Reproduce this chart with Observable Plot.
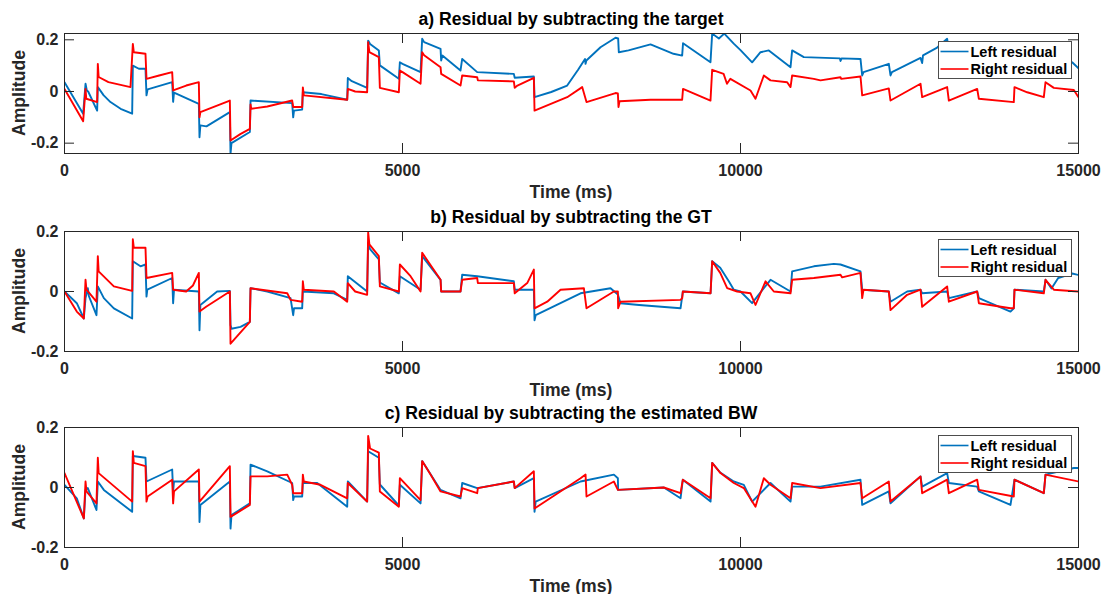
<!DOCTYPE html>
<html>
<head>
<meta charset="utf-8">
<script src="https://cdn.jsdelivr.net/npm/d3@7"></script>
<script src="https://cdn.jsdelivr.net/npm/@observablehq/plot@0.6"></script>
<style>
  body { margin: 0; background: #fff; }
  #chart { position: relative; width: 1101px; height: 594px; overflow: hidden; background: #fff; }
  #chart .panel { position: absolute; left: 0; }
</style>
</head>
<body>
<div id="chart"></div>
<script>
// Time axis and amplitude ticks
const timeTicks = [0, 5000, 10000, 15000];
const ampTicks = [-0.2, 0, 0.2];
const seriesNames = ["Left residual", "Right residual"];
const panelTitles = [
  "a) Residual by subtracting the target",
  "b) Residual by subtracting the GT",
  "c) Residual by subtracting the estimated BW"
];
const panelYDomains = [[-0.24, 0.2244], [-0.2, 0.2], [-0.2, 0.2]];

// [time (ms), amplitude] samples of each residual trace
const aLeft = [[0,0.036],[276,-0.086],[311,0.030],[330,0.004],[350,0.0],[483,-0.074],[493,0.017],[580,-0.015],[680,-0.041],[830,-0.067],[1001,-0.086],[1011,0.100],[1100,0.088],[1198,0.088],[1213,-0.015],[1230,0.008],[1593,0.036],[1607,-0.040],[1620,-0.004],[1987,-0.048],[1997,-0.177],[2010,-0.131],[2100,-0.135],[2446,-0.080],[2456,-0.241],[2470,-0.200],[2742,-0.157],[2752,-0.035],[3368,-0.045],[3383,-0.100],[3395,-0.074],[3516,-0.070],[3526,-0.003],[3800,-0.010],[4182,-0.032],[4191,0.052],[4250,0.040],[4477,0.014],[4492,0.197],[4520,0.184],[4650,0.159],[4665,0.101],[4946,0.049],[4961,0.113],[5000,0.107],[5267,0.075],[5291,0.204],[5320,0.191],[5563,0.165],[5572,0.120],[5590,0.139],[5858,0.081],[5883,0.126],[6105,0.075],[6647,0.068],[6660,0.053],[6943,0.058],[6953,-0.022],[7200,-0.002],[7436,0.023],[7600,0.085],[7700,0.126],[7708,0.107],[7720,0.120],[7929,0.171],[8151,0.208],[8190,0.205],[8200,0.152],[8343,0.159],[8669,0.182],[9009,0.146],[9137,0.139],[9150,0.187],[9556,0.113],[9581,0.224],[9680,0.205],[9760,0.224],[9900,0.185],[10000,0.160],[10172,0.113],[10296,0.152],[10419,0.159],[10740,0.094],[10764,0.159],[10937,0.133],[11470,0.128],[11480,0.118],[11495,0.128],[11775,0.126],[11800,0.062],[11820,0.075],[12194,0.107],[12219,0.062],[12240,0.075],[12663,0.130],[12687,0.110],[12700,0.140],[12909,0.170],[13057,0.204],[13082,0.160],[13501,0.190],[13526,0.150],[14043,0.130],[14053,0.170],[14487,0.160],[14512,0.190],[14800,0.125],[14906,0.113],[15000,0.090]];
const aRight = [[0,0.010],[276,-0.115],[311,0.010],[322,-0.028],[483,-0.041],[493,0.107],[505,0.056],[650,0.036],[976,0.017],[1011,0.184],[1025,0.152],[1198,0.146],[1213,0.049],[1400,0.062],[1593,0.075],[1607,0.004],[1800,0.023],[1987,0.036],[1997,-0.100],[2010,-0.080],[2446,-0.035],[2456,-0.190],[2600,-0.165],[2742,-0.145],[2752,-0.050],[2762,-0.067],[3000,-0.058],[3368,-0.035],[3383,-0.060],[3516,-0.060],[3526,0.016],[3540,-0.015],[4182,-0.032],[4191,0.010],[4300,0.000],[4477,-0.003],[4492,0.191],[4510,0.152],[4650,0.133],[4665,0.014],[4946,-0.003],[4961,0.081],[5000,0.075],[5267,0.030],[5291,0.152],[5320,0.140],[5563,0.094],[5572,0.068],[5858,0.023],[5883,0.062],[6105,0.055],[6115,0.043],[6647,0.039],[6660,0.014],[6700,0.023],[6943,0.053],[6953,-0.074],[7436,-0.022],[7658,0.017],[7722,-0.041],[8151,-0.006],[8186,-0.008],[8195,-0.060],[8210,-0.038],[8669,-0.032],[9137,-0.032],[9150,0.010],[9556,-0.035],[9581,0.084],[9750,0.068],[9800,0.030],[9850,0.049],[10148,0.004],[10222,-0.028],[10345,0.062],[10444,0.043],[10690,0.036],[10740,0.017],[10764,0.062],[11085,0.049],[11183,0.043],[11479,0.055],[11490,0.049],[11775,0.058],[11800,-0.015],[12194,0.012],[12219,-0.035],[12663,0.030],[12687,-0.022],[13057,0.017],[13082,-0.035],[13501,0.010],[13526,-0.028],[14043,-0.041],[14053,0.017],[14241,-0.003],[14487,-0.022],[14512,0.036],[14635,0.014],[14931,0.006],[15000,-0.022]];
const bLeft = [[0,0],[182,-0.039],[286,-0.09],[311,-0.022],[345,0.011],[360,-0.015],[473,-0.079],[493,0.017],[582,-0.022],[730,-0.056],[1001,-0.09],[1011,0.101],[1124,0.084],[1198,0.09],[1213,-0.017],[1225,0.006],[1593,0.045],[1607,-0.039],[1620,0.006],[1987,0],[1997,-0.129],[2010,-0.045],[2258,0],[2446,0.002],[2456,-0.112],[2470,-0.124],[2604,-0.118],[2742,-0.101],[2752,0.011],[3000,0],[3344,-0.022],[3383,-0.079],[3395,-0.056],[3516,-0.056],[3526,0],[3985,-0.006],[4182,-0.028],[4191,0.051],[4477,0],[4492,0.163],[4520,0.141],[4650,0.107],[4665,0.03],[4946,-0.006],[4961,0.051],[5267,0.006],[5291,0.118],[5563,0.039],[5572,0],[5858,0],[5883,0.056],[6105,0.051],[6647,0.034],[6660,0.006],[6943,0.006],[6953,-0.096],[6970,-0.079],[7634,-0.006],[8077,0.011],[8186,-0.01],[8225,-0.039],[8500,-0.045],[9113,-0.056],[9147,0],[9557,-0.006],[9581,0.101],[9700,0.079],[9827,0.034],[9901,0.006],[10000,0],[10172,-0.039],[10345,0.011],[10444,0.039],[10740,0],[10764,0.067],[11085,0.084],[11381,0.092],[11479,0.09],[11775,0.067],[11800,0.006],[12194,0],[12219,-0.034],[12465,0],[12663,0.006],[12687,-0.006],[13057,0],[13082,-0.022],[13501,0],[13526,-0.022],[13994,-0.067],[14043,-0.056],[14053,0.006],[14487,0],[14512,0.039],[14600,0.01],[14700,0.045],[14906,0.06],[15000,0.055]];
const bRight = [[0,0],[182,-0.067],[286,-0.09],[311,0.039],[325,0.006],[473,-0.034],[493,0.118],[505,0.067],[730,0.017],[1001,0.002],[1011,0.174],[1025,0.146],[1198,0.146],[1213,0.045],[1593,0.062],[1607,0.006],[1800,0],[1900,0.02],[1987,0.062],[1997,-0.067],[2100,-0.05],[2446,0],[2456,-0.174],[2742,-0.101],[2752,0.011],[3295,-0.006],[3344,-0.028],[3516,-0.034],[3526,0.034],[3540,0.006],[3985,0],[4182,-0.034],[4191,0.028],[4300,0],[4477,-0.011],[4492,0.197],[4510,0.157],[4650,0.118],[4665,0.017],[4946,0],[4961,0.090],[5119,0.051],[5267,0],[5291,0.129],[5563,0.039],[5572,0],[5858,0],[5883,0.039],[6105,0.045],[6115,0.028],[6647,0.028],[6660,-0.006],[6845,0.028],[6943,0.073],[6953,-0.056],[7141,-0.034],[7338,0.006],[7683,0.011],[7722,-0.056],[8127,0],[8186,0],[8190,-0.056],[8225,-0.034],[9113,-0.028],[9138,-0.022],[9147,0],[9557,-0.006],[9581,0.101],[9700,0.062],[9803,0.011],[9950,0],[10148,-0.006],[10222,-0.045],[10370,0.034],[10493,0],[10740,-0.006],[10764,0.039],[11085,0.045],[11479,0.056],[11504,0.047],[11775,0.062],[11800,-0.022],[11820,0.006],[12194,0],[12219,-0.062],[12465,-0.011],[12663,0.006],[12687,-0.051],[13057,0.017],[13082,-0.034],[13501,0],[13526,-0.039],[13994,-0.056],[14043,-0.056],[14053,0.006],[14487,-0.006],[14512,0.039],[14635,0.006],[15000,0]];
const cLeft = [[0,0.009],[182,-0.036],[286,-0.103],[311,-0.008],[345,-0.002],[473,-0.075],[493,0.020],[582,-0.008],[1001,-0.081],[1011,0.105],[1198,0.099],[1213,0.020],[1593,0.060],[1607,-0.013],[1620,0.020],[1987,0.020],[1997,-0.115],[2010,-0.058],[2446,0.020],[2456,-0.137],[2470,-0.092],[2742,-0.053],[2752,0.076],[2999,0.054],[3368,0.015],[3383,-0.042],[3395,-0.030],[3516,-0.030],[3526,0.015],[3738,0.015],[4182,-0.064],[4191,0.020],[4477,-0.047],[4492,0.121],[4650,0.099],[4665,0.01],[4946,-0.06],[4961,0.009],[5267,-0.053],[5291,0.088],[5563,-0.008],[5858,-0.036],[5883,0.015],[6105,-0.002],[6647,0.020],[6660,-0.002],[6943,0.031],[6953,-0.081],[6970,-0.047],[7634,0.020],[8127,0.043],[8186,0.031],[8190,-0.008],[8866,0],[9113,-0.036],[9147,0.026],[9557,-0.047],[9581,0.082],[9700,0.05],[9901,0.02],[10049,0.009],[10172,-0.047],[10444,0.015],[10740,-0.047],[10764,0.003],[11183,0.003],[11775,0.026],[11800,-0.058],[12194,-0.013],[12219,-0.053],[12663,0.037],[12687,0.003],[13057,0.048],[13082,0.015],[13501,0.003],[13526,-0.013],[13994,-0.058],[14053,0.026],[14487,-0.019],[14512,0.043],[14931,0.065],[15000,0.065]];
const cRight = [[0,0.048],[286,-0.103],[311,0.020],[325,-0.013],[473,-0.053],[493,0.099],[505,0.048],[1001,-0.047],[1011,0.121],[1025,0.082],[1198,0.071],[1213,-0.047],[1230,-0.030],[1593,0.026],[1607,-0.053],[1620,-0.013],[1987,0.060],[1997,-0.047],[2446,0.071],[2456,-0.098],[2742,-0.058],[2752,0.037],[2999,0.037],[3295,0.043],[3368,0.009],[3383,-0.019],[3516,-0.019],[3526,0.043],[3540,0.020],[3787,0.009],[4182,-0.036],[4191,0.015],[4477,-0.047],[4492,0.172],[4520,0.13],[4650,0.116],[4665,-0.013],[4946,-0.064],[4961,0.031],[5267,-0.042],[5291,0.088],[5415,0.043],[5563,-0.013],[5858,-0.030],[5883,-0.002],[6105,-0.019],[6115,-0.002],[6647,0.020],[6660,-0.002],[6943,0.054],[6953,-0.070],[7634,0.031],[7708,0.043],[7722,-0.030],[8127,0.020],[8186,-0.008],[8866,0],[9113,-0.019],[9147,0.026],[9557,-0.036],[9581,0.082],[9704,0.048],[9901,0.015],[10049,-0.002],[10222,-0.064],[10345,0.031],[10444,0.009],[10740,-0.036],[10764,0.015],[11183,-0.002],[11775,0.015],[11800,-0.036],[12194,0.020],[12219,-0.047],[12663,0.037],[12687,-0.019],[13057,0.026],[13082,-0.019],[13501,0.026],[13526,-0.008],[14043,-0.030],[14053,0.026],[14487,-0.019],[14512,0.043],[14635,0.037],[15000,0.020]];

const panelSeries = [[aLeft, aRight], [bLeft, bRight], [cLeft, cRight]];
const panelTops = [0, 198, 394];

const FONT = "'Liberation Sans', Arial, Helvetica, sans-serif";
const INK = "#262626";
const BLUE = "#0072BD";
const RED = "#FF0000";
const W = 1101, H = 198;
const M = {top: 33, right: 23, bottom: 45, left: 64};
const frameW = W - M.left - M.right;   // 1014
const frameH = H - M.top - M.bottom;   // 120
const TICK = 10;
const LINE_W = 1.9;

const toRows = arr => arr.map(([t, v]) => ({t, v}));
const fmtAmp = d => d === 0 ? "0" : String(d);

const root = d3.select("#chart");

panelTitles.forEach((title, i) => {
  const [left, right] = panelSeries[i];
  const svg = Plot.plot({
    width: W,
    height: H,
    marginTop: M.top,
    marginRight: M.right,
    marginBottom: M.bottom,
    marginLeft: M.left,
    style: {background: "transparent", overflow: "visible", fontFamily: FONT, color: INK},
    x: {domain: [0, 15000]},
    y: {domain: panelYDomains[i]},
    marks: [
      Plot.line(toRows(left), {x: "t", y: "v", stroke: BLUE, strokeWidth: LINE_W, clip: true}),
      Plot.line(toRows(right), {x: "t", y: "v", stroke: RED, strokeWidth: LINE_W, clip: true}),
      // inward tick marks on all four sides of the box
      Plot.ruleX(timeTicks, {stroke: INK, strokeWidth: 1, insetTop: frameH - TICK}),
      Plot.ruleX(timeTicks, {stroke: INK, strokeWidth: 1, insetBottom: frameH - TICK}),
      Plot.ruleY(ampTicks, {stroke: INK, strokeWidth: 1, insetRight: frameW - TICK}),
      Plot.ruleY(ampTicks, {stroke: INK, strokeWidth: 1, insetLeft: frameW - TICK}),
      Plot.frame({stroke: INK, strokeWidth: 1}),
      Plot.axisX({ticks: timeTicks, tickSize: 0, tickPadding: 11, tickFormat: "d",
        fontSize: 16, fontWeight: "bold", fill: INK, label: null}),
      Plot.axisY({ticks: ampTicks, tickSize: 0, tickPadding: 6, tickFormat: fmtAmp,
        fontSize: 16, fontWeight: "bold", fill: INK, label: null})
    ]
  });

  const s = d3.select(svg);
  const cx = M.left + frameW / 2;
  // panel title
  s.append("text")
    .attr("x", cx).attr("y", M.top - 8)
    .attr("text-anchor", "middle")
    .attr("font-family", FONT).attr("font-size", 17.6).attr("font-weight", "bold")
    .attr("fill", "#000").text(title);
  // x label
  s.append("text")
    .attr("x", cx).attr("y", M.top + frameH + 44.5)
    .attr("text-anchor", "middle")
    .attr("font-family", FONT).attr("font-size", 17.6).attr("font-weight", "bold")
    .attr("fill", INK).text("Time (ms)");
  // y label
  s.append("text")
    .attr("transform", `translate(25,${M.top + frameH / 2}) rotate(-90)`)
    .attr("text-anchor", "middle")
    .attr("font-family", FONT).attr("font-size", 17.6).attr("font-weight", "bold")
    .attr("fill", INK).text("Amplitude");

  // legend box in the upper-right corner
  const lg = s.append("g").attr("transform", `translate(938.5,${M.top + 8.5})`);
  lg.append("rect").attr("width", 133).attr("height", 37)
    .attr("fill", "#fff").attr("stroke", "#4d4d4d").attr("stroke-width", 1);
  [BLUE, RED].forEach((c, k) => {
    const yy = 10 + k * 17.5;
    lg.append("line").attr("x1", 2).attr("x2", 30).attr("y1", yy).attr("y2", yy)
      .attr("stroke", c).attr("stroke-width", 1.6);
    lg.append("text").attr("x", 32).attr("y", yy).attr("dy", "0.36em")
      .attr("text-anchor", "start")
      .attr("font-family", FONT).attr("font-size", 14.5).attr("font-weight", "bold")
      .attr("fill", "#000").text(seriesNames[k]);
  });

  root.append("div").attr("class", "panel").style("top", panelTops[i] + "px")
    .node().appendChild(svg);
});
</script>
</body>
</html>
